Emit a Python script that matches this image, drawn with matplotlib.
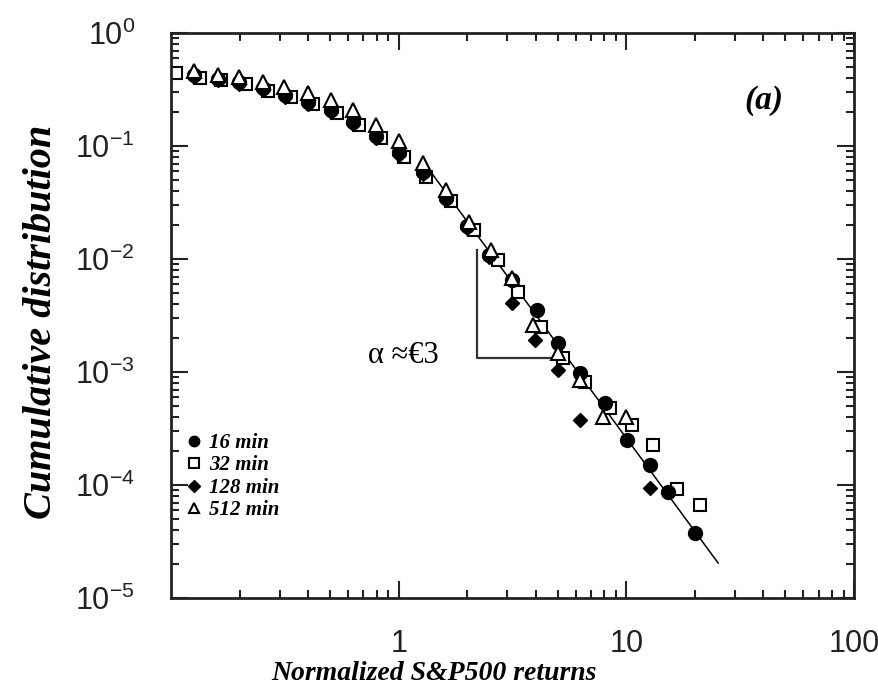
import matplotlib
matplotlib.use('Agg')
import matplotlib.pyplot as plt
from matplotlib.ticker import LogLocator, FixedLocator, NullFormatter, FixedFormatter

# 16 min (filled circles)
x16 = [0.126, 0.161, 0.199, 0.253, 0.316, 0.399, 0.503, 0.628, 0.793, 1.0, 1.274, 1.608,
       1.987, 2.482, 3.162, 4.07, 5.03, 6.28, 8.09, 10.1, 12.7, 15.3, 20.1]
y16 = [0.425, 0.392, 0.368, 0.326, 0.283, 0.245, 0.208, 0.163, 0.123, 0.0885, 0.0589, 0.0347,
       0.0196, 0.0108, 0.00652, 0.00354, 0.00181, 0.00098, 5.32e-4, 2.5e-4, 1.5e-4, 8.7e-5, 3.76e-5]

# 32 min (open squares)
x32 = [0.105, 0.134, 0.165, 0.213, 0.266, 0.336, 0.420, 0.535, 0.668, 0.834, 1.052, 1.313,
       1.690, 2.133, 2.718, 3.360, 4.20, 5.29, 6.61, 8.51, 10.6, 13.1, 16.7, 21.1]
y32 = [0.443, 0.400, 0.385, 0.354, 0.307, 0.271, 0.235, 0.196, 0.153, 0.118, 0.080, 0.0532,
       0.0326, 0.0181, 0.0098, 0.00511, 0.00250, 0.00133, 0.00082, 4.8e-4, 3.4e-4, 2.26e-4, 9.2e-5, 6.65e-5]

# 128 min (filled diamonds)
x128 = [0.126, 0.161, 0.199, 0.253, 0.316, 0.399, 0.503, 0.628, 0.793, 1.0, 1.274, 1.608,
        1.987, 2.482, 3.162, 3.99, 5.03, 6.28, 12.7]
y128 = [0.41, 0.38, 0.355, 0.315, 0.272, 0.235, 0.198, 0.155, 0.117, 0.084, 0.056, 0.033,
        0.0188, 0.0104, 0.00408, 0.00192, 0.00104, 3.76e-4, 9.4e-5]

# 512 min (open triangles)
x512 = [0.126, 0.161, 0.199, 0.253, 0.313, 0.399, 0.503, 0.628, 0.793, 1.0, 1.274, 1.608,
        2.028, 2.533, 3.162, 3.909, 5.03, 6.28, 7.93, 10.0]
y512 = [0.461, 0.425, 0.408, 0.368, 0.333, 0.294, 0.255, 0.208, 0.153, 0.111, 0.0708, 0.0408,
        0.0212, 0.0120, 0.00679, 0.00261, 0.00147, 0.00085, 4.0e-4, 4.0e-4]

# power-law fit and slope guide
fit_x = [1.3, 25.3]
fit_y = [0.070, 2.04e-5]
guide_x = [2.2, 2.2, 5.19]
guide_y = [0.012, 1.33e-3, 1.33e-3]

serif = 'Liberation Serif'
sans = 'Liberation Sans'
plt.rcParams['font.family'] = sans
plt.rcParams['mathtext.default'] = 'regular'
plt.rcParams['axes.unicode_minus'] = False

fig = plt.figure(figsize=(8.79, 6.90), dpi=100)
ax = fig.add_axes([171 / 879, 92 / 690, 683 / 879, 565 / 690])

ax.plot(fit_x, fit_y, '-', color='black', lw=1.1, zorder=1)
ax.plot(guide_x, guide_y, '-', color='#333333', lw=1.6, zorder=1)

ax.plot(x16, y16, 'o', ms=10, mfc='black', mec='black', ls='none', label='16 min', zorder=3)
ax.plot(x32, y32, 's', ms=9, mfc='white', mec='black', mew=1.5, ls='none', label='32 min', zorder=2)
ax.plot(x128, y128, 'D', ms=7.5, mfc='black', mec='black', ls='none', label='128 min', zorder=3)
ax.plot(x512, y512, '^', ms=10, mfc='white', mec='black', mew=1.5, ls='none', label='512 min', zorder=4)

ax.set_xscale('log')
ax.set_yscale('log')
ax.set_xlim(0.1, 100)
ax.set_ylim(1e-5, 1)

ax.xaxis.set_major_locator(FixedLocator([1, 10, 100]))
ax.xaxis.set_major_formatter(FixedFormatter(['1', '10', '100']))
ax.xaxis.set_minor_locator(LogLocator(base=10, subs=range(2, 10)))
ax.xaxis.set_minor_formatter(NullFormatter())
ax.yaxis.set_major_locator(LogLocator(base=10, numticks=10))
ax.yaxis.set_minor_locator(LogLocator(base=10, subs=range(2, 10), numticks=20))
ax.yaxis.set_minor_formatter(NullFormatter())

ax.tick_params(which='both', direction='in', top=True, right=True, width=1.5, color='#222222')
ax.tick_params(which='major', length=12)
ax.tick_params(which='minor', length=6)
ax.tick_params(axis='y', which='major', labelsize=22, pad=26, labelcolor='#222222')
ax.tick_params(axis='x', which='major', labelsize=22, pad=22, labelcolor='#222222')
for s in ax.spines.values():
    s.set_linewidth(2)
    s.set_color('#222222')

fig.text(434 / 879, 1 - 673 / 690, 'Normalized S&P500 returns', fontfamily=serif,
         fontweight='bold', fontstyle='italic', fontsize=20, ha='center', va='center')
fig.text(42 / 879, 1 - 322 / 690, 'Cumulative distribution', fontfamily=serif,
         fontweight='bold', fontstyle='italic', fontsize=29, ha='center', va='center',
         rotation=90)

ax.text(0.73, 1.4e-3, 'α ≈€3', fontfamily=serif, fontsize=22, va='center', ha='left')
ax.text(0.84, 0.881, '(a)', transform=ax.transAxes, fontfamily=serif, fontweight='bold',
        fontstyle='italic', fontsize=24, va='center', ha='left')

leg = ax.legend(loc='upper left', bbox_to_anchor=(0.012, 0.307), frameon=False,
                handlelength=0.6, handletextpad=0.45, labelspacing=0.12, markerscale=0.75,
                borderaxespad=0,
                prop={'family': serif, 'weight': 'bold', 'style': 'italic', 'size': 15})

fig.savefig('out.png', dpi=100)
